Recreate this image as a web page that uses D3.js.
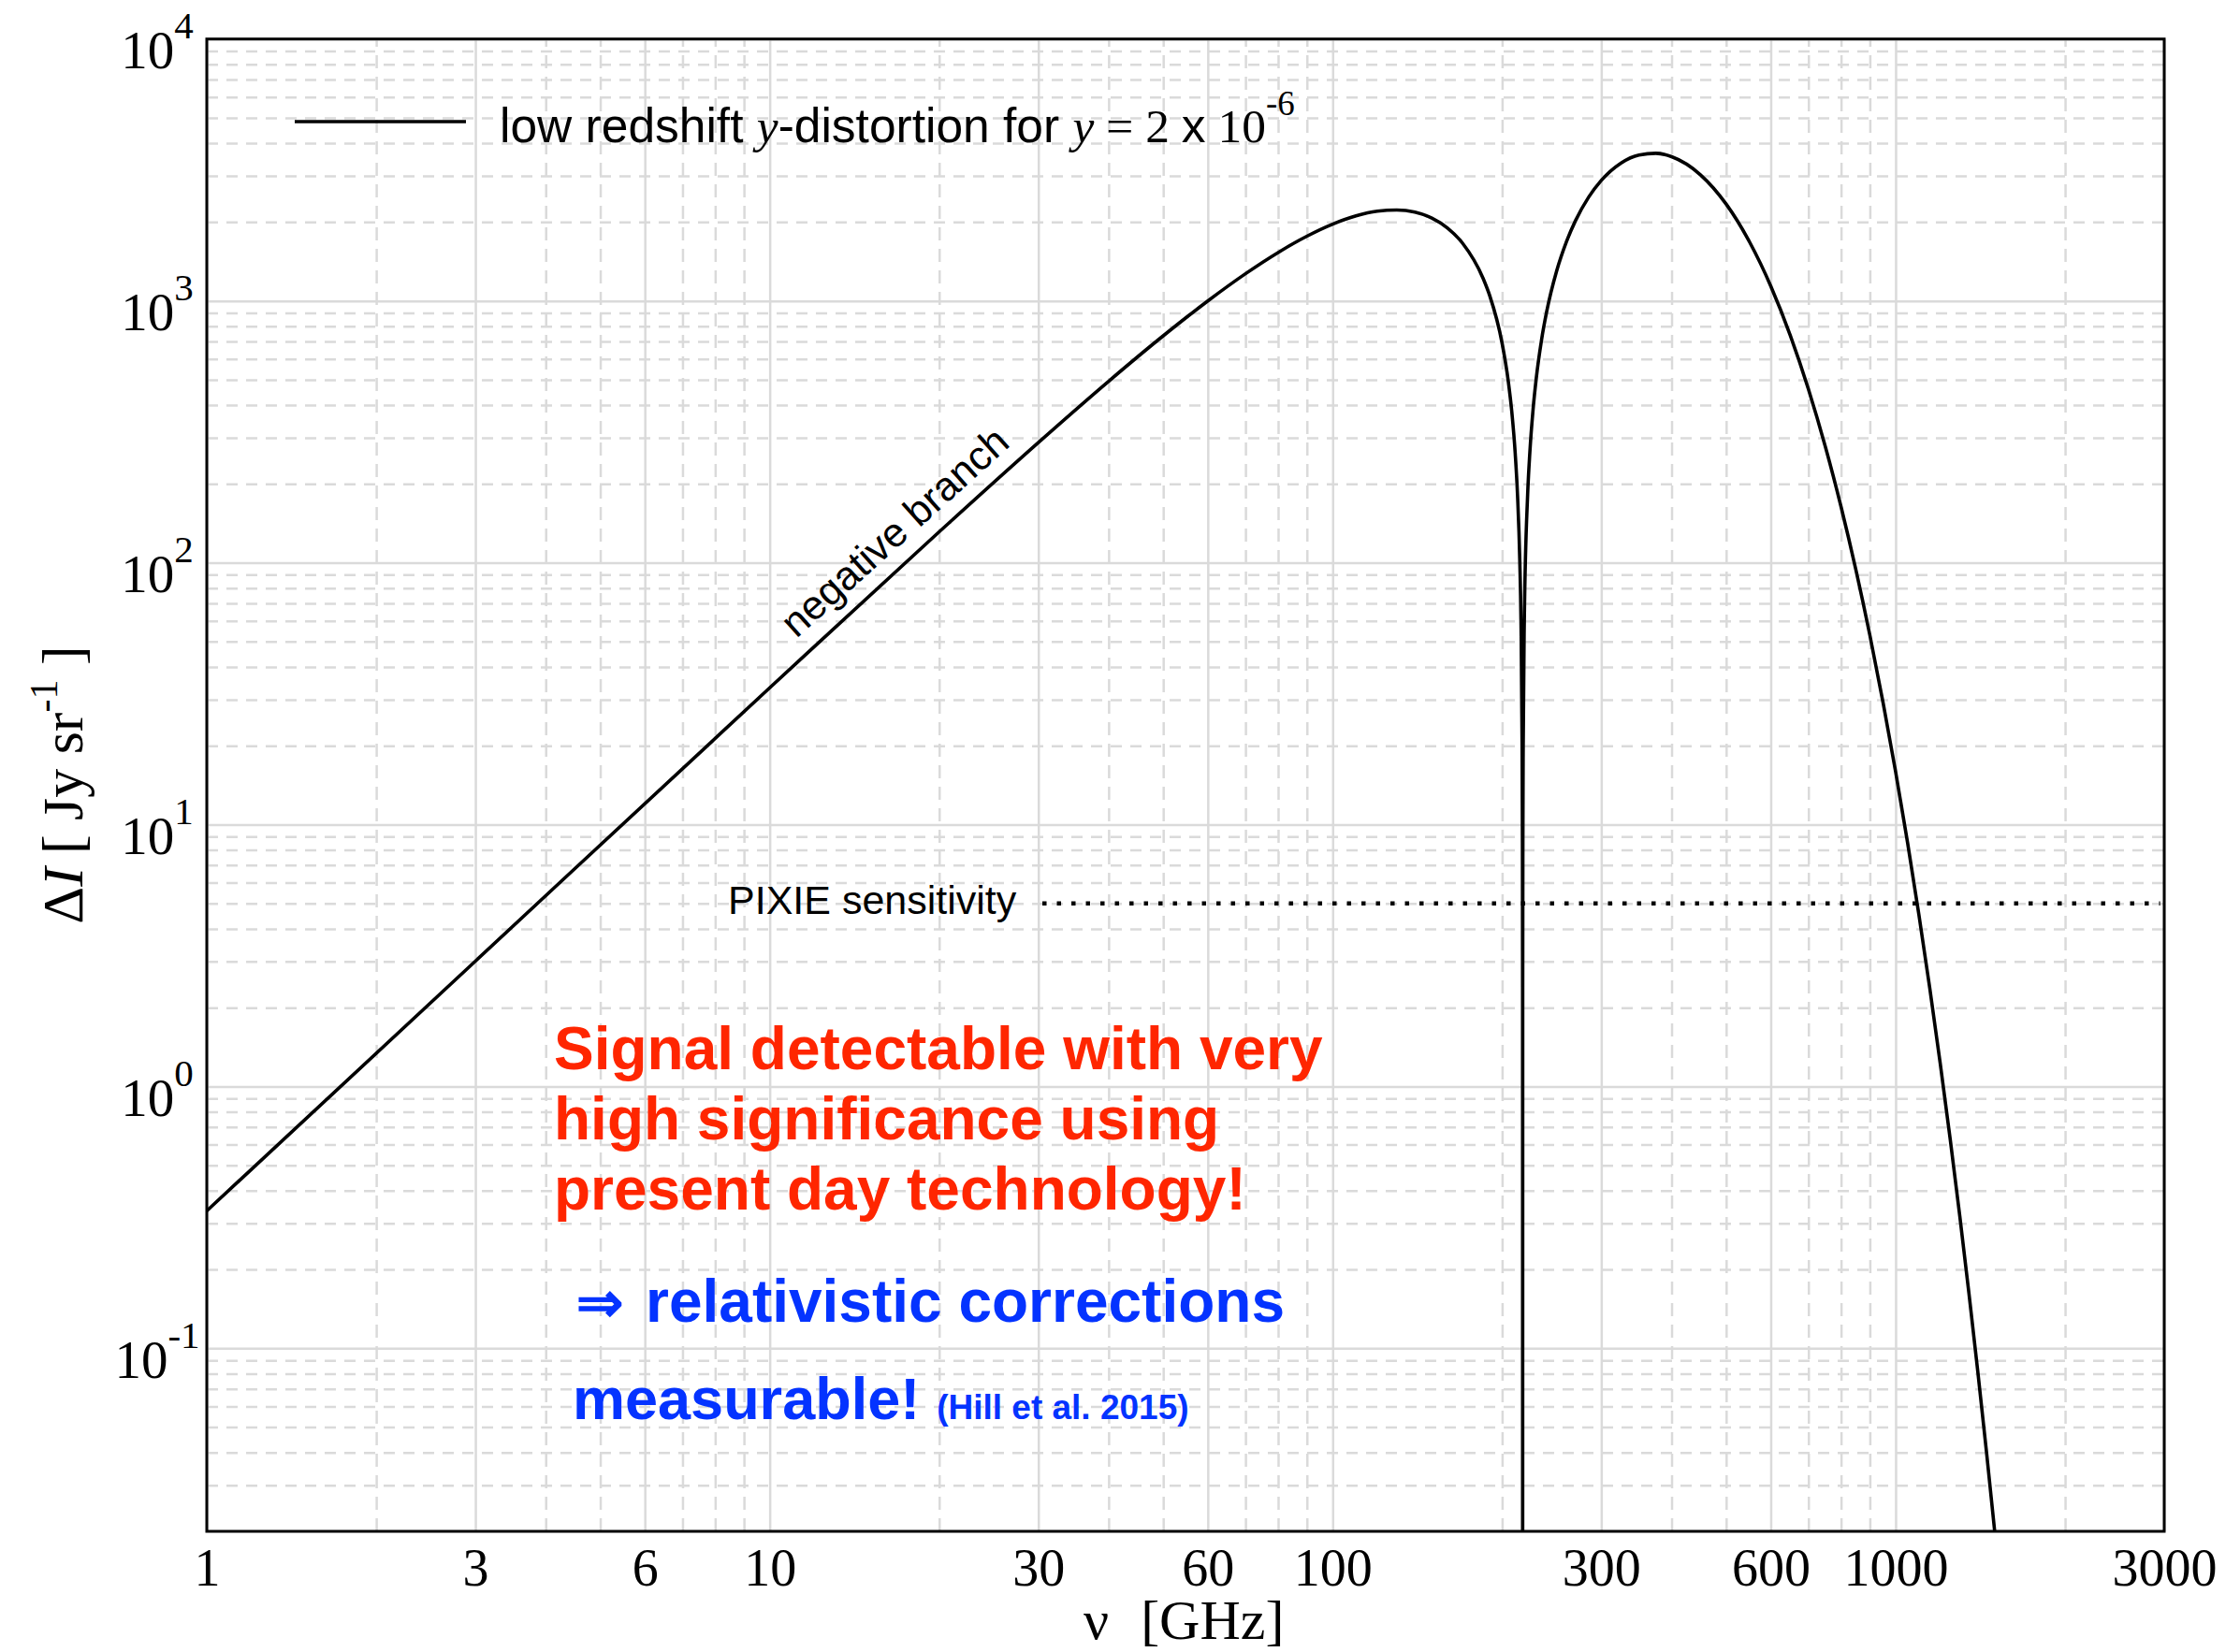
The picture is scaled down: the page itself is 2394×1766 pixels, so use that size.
<!DOCTYPE html>
<html>
<head>
<meta charset="utf-8">
<script src="https://d3js.org/d3.v7.min.js"></script>
<style>
  body { margin: 0; background: #fff; }
  svg { display: block; }
  .serif { font-family: 'Liberation Serif', 'Times New Roman', serif; }
  .sans { font-family: 'Liberation Sans', Arial, Helvetica, sans-serif; }
</style>
</head>
<body>
<div id="chart"></div>
<script>
// y-distortion spectrum |Delta I| (Jy/sr) against frequency (GHz)
var freqGHz = [1, 3, 10, 20, 30, 40, 50, 60, 70, 80, 90, 100, 110, 120, 130, 140, 150, 160, 170,
    185, 190, 200, 205, 208, 211, 213, 215, 216, 217, 217.3, 217.45, 217.51, 217.57, 217.72, 218,
    219, 222, 224, 227, 230, 235, 240, 250, 260, 270, 285, 300, 325, 350, 375, 400, 450, 500, 550,
    600, 650, 700, 750, 800, 850, 900, 950, 1000, 1050, 1100, 1150, 1200, 1250, 1300, 1350, 1400,
    1450, 1500, 1600];
var deltaI = [0.335, 3.01, 33.3, 131.2, 287.7, 493.2, 735.2, 999.2, 1269.4, 1530, 1765.7, 1962.9,
    2110.3, 2199.1, 2223.4, 2180.6, 2070.6, 1896.6, 1663.6,
    1219.3, 1050.2, 687.6, 496.6, 379.5, 261.0, 181.2, 101.0, 60.8, 20.5, 8.5, 2.4, 0.001, 2.4, 8.5, 20.0,
    60.5, 182.2, 263.6, 385.7, 507.7, 710.3, 910.9, 1302.4, 1675.4, 2024.3, 2492.2, 2884.5, 3357.2,
    3607.3, 3659.5, 3552.7, 3031.0, 2342.0, 1680.7,
    1140.0, 738.2, 460.3, 278.1, 163.5, 93.95, 52.89, 29.24, 15.92, 8.54, 4.52, 2.37, 1.228, 0.630,
    0.3205, 0.1617, 0.0810, 0.0403, 0.0199, 0.0048];

var xTickValues = [1, 3, 6, 10, 30, 60, 100, 300, 600, 1000, 3000];
var xMinorValues = [2, 4, 5, 7, 8, 9, 20, 40, 50, 70, 80, 90, 200, 400, 500, 700, 800, 900, 2000];
var yDecades = [-1, 0, 1, 2, 3, 4];
var yMinorValues = [0.03, 0.04, 0.05, 0.06, 0.07, 0.08, 0.09,
    0.2, 0.3, 0.4, 0.5, 0.6, 0.7, 0.8, 0.9,
    2, 3, 4, 5, 6, 7, 8, 9,
    20, 30, 40, 50, 60, 70, 80, 90,
    200, 300, 400, 500, 600, 700, 800, 900,
    2000, 3000, 4000, 5000, 6000, 7000, 8000, 9000];
var xDomain = [1, 3000];
var yDomain = [0.02, 1e4];

var pixieLevel = 5;
var pixieRange = [30.5, 2950];

var redLines = ['Signal detectable with very', 'high significance using', 'present day technology!'];
var blueLines = ['relativistic corrections', 'measurable!'];
var citation = '(Hill et al. 2015)';

var width = 2394, height = 1766;
var margin = { top: 41.7, right: 81, bottom: 129, left: 221 };
var plotW = width - margin.left - margin.right;
var plotH = height - margin.top - margin.bottom;

var gridColor = '#dadada';
var red = '#ff2600', blue = '#0433ff';

var svg = d3.select('#chart').append('svg')
    .attr('width', width)
    .attr('height', height);

var x = d3.scaleLog().domain(xDomain).range([margin.left, margin.left + plotW]);
var y = d3.scaleLog().domain(yDomain).range([margin.top + plotH, margin.top]);

svg.append('defs').append('clipPath').attr('id', 'plot-clip')
    .append('rect')
    .attr('x', margin.left).attr('y', margin.top)
    .attr('width', plotW).attr('height', plotH);

function styleGrid(sel, dashes) {
    sel.select('.domain').remove();
    sel.selectAll('line')
        .attr('stroke', gridColor)
        .attr('stroke-width', 2.5)
        .attr('stroke-dasharray', dashes);
}

// grid: dashed minor lines first, solid major lines on top
svg.append('g')
    .attr('transform', 'translate(0,' + (margin.top + plotH) + ')')
    .call(d3.axisBottom(x).tickValues(xMinorValues).tickSize(-plotH).tickFormat(''))
    .call(styleGrid, '14,9');
svg.append('g')
    .attr('transform', 'translate(' + margin.left + ',0)')
    .call(d3.axisLeft(y).tickValues(yMinorValues).tickSize(-plotW).tickFormat(''))
    .call(styleGrid, '12,9');
svg.append('g')
    .attr('transform', 'translate(0,' + (margin.top + plotH) + ')')
    .call(d3.axisBottom(x).tickValues(xTickValues).tickSize(-plotH).tickFormat(''))
    .call(styleGrid, null);
svg.append('g')
    .attr('transform', 'translate(' + margin.left + ',0)')
    .call(d3.axisLeft(y).tickValues(yDecades.map(function(e) { return Math.pow(10, e); }))
        .tickSize(-plotW).tickFormat(''))
    .call(styleGrid, null);

// PIXIE sensitivity level
svg.append('line')
    .attr('x1', x(pixieRange[0])).attr('x2', x(pixieRange[1]))
    .attr('y1', y(pixieLevel)).attr('y2', y(pixieLevel))
    .attr('stroke', '#000')
    .attr('stroke-width', 4.5)
    .attr('stroke-dasharray', '4.5,11');

svg.append('text')
    .attr('class', 'sans')
    .attr('x', 778).attr('y', 977)
    .attr('font-size', 43)
    .text('PIXIE sensitivity');

// spectrum
var points = freqGHz.map(function(f, i) { return [f, deltaI[i]]; });
var line = d3.line()
    .x(function(d) { return x(d[0]); })
    .y(function(d) { return y(d[1]); })
    .curve(d3.curveMonotoneX);

svg.append('path')
    .datum(points)
    .attr('clip-path', 'url(#plot-clip)')
    .attr('fill', 'none')
    .attr('stroke', '#000')
    .attr('stroke-width', 3.6)
    .attr('stroke-linejoin', 'round')
    .attr('d', line);

// frame
svg.append('rect')
    .attr('x', margin.left).attr('y', margin.top)
    .attr('width', plotW).attr('height', plotH)
    .attr('fill', 'none')
    .attr('stroke', '#000')
    .attr('stroke-width', 3);

// x axis labels
var xAxis = svg.append('g')
    .attr('transform', 'translate(0,' + (margin.top + plotH) + ')')
    .call(d3.axisBottom(x).tickValues(xTickValues).tickSize(0).tickFormat(d3.format('d')));
xAxis.select('.domain').remove();
xAxis.selectAll('text')
    .attr('class', 'serif')
    .attr('y', 58)
    .attr('dy', null)
    .attr('font-size', 56)
    .attr('fill', '#000');

// y axis labels 10^n
var yAxis = svg.append('g')
    .attr('transform', 'translate(' + margin.left + ',0)')
    .call(d3.axisLeft(y).tickValues(yDecades.map(function(e) { return Math.pow(10, e); }))
        .tickSize(0).tickFormat(''));
yAxis.select('.domain').remove();
yAxis.selectAll('text')
    .attr('class', 'serif')
    .attr('x', -53)
    .attr('y', 31)
    .attr('dy', null)
    .attr('text-anchor', 'middle')
    .attr('font-size', 57)
    .attr('fill', '#000')
    .each(function(d) {
        var t = d3.select(this);
        t.append('tspan').text('10');
        t.append('tspan')
            .attr('dy', -32)
            .attr('font-size', 41)
            .text(Math.round(Math.log10(d)));
    });

// axis titles
var xTitle = svg.append('text')
    .attr('class', 'serif')
    .attr('x', 1158).attr('y', 1752)
    .attr('font-size', 60);
xTitle.append('tspan').text('\u03bd');
xTitle.append('tspan').attr('dx', 34).text('[GHz]');

var yTitle = svg.append('text')
    .attr('class', 'serif')
    .attr('transform', 'translate(88,839) rotate(-90)')
    .attr('text-anchor', 'middle')
    .attr('font-size', 62);
yTitle.append('tspan').text('\u0394');
yTitle.append('tspan').attr('font-style', 'italic').text('I');
yTitle.append('tspan').attr('dx', 14).text('[ Jy sr');
yTitle.append('tspan').attr('dy', -27).attr('font-size', 42).text('-1');
yTitle.append('tspan').attr('dy', 27).text(' ]');

// legend
svg.append('line')
    .attr('x1', 315).attr('x2', 498)
    .attr('y1', 130).attr('y2', 130)
    .attr('stroke', '#000')
    .attr('stroke-width', 3.5);

var legend = svg.append('text')
    .attr('x', 534).attr('y', 152)
    .attr('font-size', 51.5);
legend.append('tspan').attr('class', 'sans').text('low redshift ');
legend.append('tspan').attr('class', 'serif').attr('font-style', 'italic').text('y');
legend.append('tspan').attr('class', 'sans').text('-distortion for ');
legend.append('tspan').attr('class', 'serif').attr('font-style', 'italic').text('y');
legend.append('tspan').attr('class', 'serif').text(' = 2 ');
legend.append('tspan').attr('class', 'sans').text('x');
legend.append('tspan').attr('class', 'serif').text(' 10');
legend.append('tspan').attr('class', 'serif').attr('dy', -29).attr('font-size', 37).text('-6');

// curve label
svg.append('text')
    .attr('class', 'sans')
    .attr('transform', 'translate(851,683) rotate(-42)')
    .attr('font-size', 43.5)
    .text('negative branch');

// red message
svg.append('g').selectAll('text')
    .data(redLines)
    .join('text')
    .attr('class', 'sans')
    .attr('x', 592)
    .attr('y', function(d, i) { return 1143 + i * 75; })
    .attr('font-size', 64)
    .attr('font-weight', 'bold')
    .attr('fill', red)
    .text(function(d) { return d; });

// blue message
svg.append('text')
    .attr('class', 'sans')
    .attr('x', 616).attr('y', 1413)
    .attr('font-size', 60)
    .attr('font-weight', 'bold')
    .attr('fill', blue)
    .text('\u21d2');
svg.append('text')
    .attr('class', 'sans')
    .attr('x', 690).attr('y', 1413)
    .attr('font-size', 64)
    .attr('font-weight', 'bold')
    .attr('fill', blue)
    .text(blueLines[0]);
var blue2 = svg.append('text')
    .attr('class', 'sans')
    .attr('x', 612).attr('y', 1517)
    .attr('font-weight', 'bold')
    .attr('fill', blue);
blue2.append('tspan').attr('font-size', 63).text(blueLines[1]);
blue2.append('tspan').attr('font-size', 37).attr('dx', 18).text(citation);
</script>
</body>
</html>
